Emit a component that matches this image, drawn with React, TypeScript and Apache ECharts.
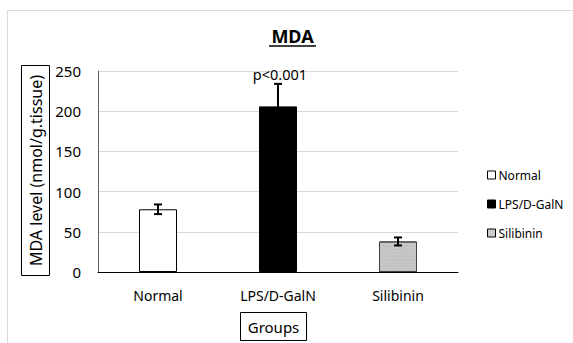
import React, { useEffect, useRef } from "react";
import * as echarts from "echarts";

const categories = ["Normal", "LPS/D-GalN", "Silibinin"];
const means = [78, 206, 38];
const errors = [6, 28, 5];
const barColors = ["#ffffff", "#000000", "#cccccc"];
const yTicks = { min: 0, max: 250, interval: 50 };
const annotation = "p<0.001";
const titleText = "MDA";
const yName = "MDA level (nmol/g.tissue)";
const xName = "Groups";

const FONT = "Noto Sans";

export default function App() {
  const ref = useRef<HTMLDivElement>(null);
  useEffect(() => {
    if (!ref.current) return;
    const chart = echarts.init(ref.current, null, { renderer: "svg" });
    const barSeries = categories.map((c, i) => ({
      name: c,
      type: "bar",
      stack: "g",
      barWidth: 38,
      data: categories.map((_, j) => (j === i ? means[i] : "-")),
      itemStyle: {
        color: barColors[i],
        borderColor: i === 2 ? "#404040" : "#000000",
        borderWidth: 1,
        decal: i === 2
          ? { symbol: "rect", symbolSize: 1, dashArrayX: [1, 1], dashArrayY: [1, 1], color: "rgba(120,120,120,0.35)", rotation: 0.785 }
          : "none",
      },
    }));
    const errData = categories.map((_, i) => [i, means[i], errors[i]]);
    chart.setOption({
      animation: false,
      aria: { enabled: false, decal: { show: false } },
      graphic: [
        {
          type: "rect",
          shape: { x: 7.5, y: 10.5, width: 600, height: 400 },
          style: { fill: "none", stroke: "#d9d9d9", lineWidth: 1 },
          silent: true,
          z: -10,
        },
        {
          type: "text",
          x: 292.5,
          y: 36,
          style: {
            text: titleText,
            textAlign: "center",
            textVerticalAlign: "middle",
            fontFamily: FONT,
            fontSize: 18,
            fontWeight: "bold",
            fill: "#000",
          },
        },
        {
          type: "line",
          shape: { x1: 269, y1: 46, x2: 316, y2: 46 },
          style: { stroke: "#000", lineWidth: 1.5 },
        },
        {
          type: "rect",
          shape: { x: 21.5, y: 65.5, width: 28, height: 210 },
          style: { fill: "none", stroke: "#000", lineWidth: 1 },
        },
        {
          type: "text",
          x: 36,
          y: 170.5,
          rotation: Math.PI / 2,
          style: {
            text: yName,
            textAlign: "center",
            textVerticalAlign: "middle",
            fontFamily: FONT,
            fontSize: 16,
            fill: "#000",
          },
        },
        {
          type: "rect",
          shape: { x: 240.5, y: 312.5, width: 66, height: 28 },
          style: { fill: "none", stroke: "#000", lineWidth: 1 },
        },
        {
          type: "text",
          x: 273.5,
          y: 326.5,
          style: {
            text: xName,
            textAlign: "center",
            textVerticalAlign: "middle",
            fontFamily: FONT,
            fontSize: 15,
            fill: "#000",
          },
        },
      ],
      legend: {
        orient: "vertical",
        left: 482,
        top: 164,
        itemWidth: 8,
        itemHeight: 8,
        itemGap: 17,
        icon: "rect",
        textStyle: { fontFamily: FONT, fontSize: 12, color: "#000", padding: [0, 0, 0, -2] },
        data: categories.map((c, i) => ({
          name: c,
          itemStyle: { color: barColors[i], borderColor: "#000", borderWidth: 1, decal: "none" },
        })),
      },
      grid: { left: 98, top: 71, right: 115, bottom: 71, outerBoundsMode: "none", containLabel: false },
      xAxis: {
        type: "category",
        data: categories,
        axisLine: { lineStyle: { color: "#000", width: 1 } },
        axisTick: { show: false },
        axisLabel: { fontFamily: FONT, fontSize: 14, color: "#000", margin: 16 },
      },
      yAxis: {
        type: "value",
        min: yTicks.min,
        max: yTicks.max,
        interval: yTicks.interval,
        axisLine: { show: true, lineStyle: { color: "#666666", width: 1 } },
        axisTick: { show: false },
        splitLine: { lineStyle: { color: "#d9d9d9", width: 1 } },
        axisLabel: { fontFamily: FONT, fontSize: 15, color: "#000", margin: 17 },
      },
      series: [
        ...barSeries,
        {
          type: "custom",
          name: "err",
          z: 10,
          renderItem: (params: any, api: any) => {
            const idx = api.value(0);
            const m = api.value(1);
            const e = api.value(2);
            const top = api.coord([idx, m + e]);
            const bot = api.coord([idx, m - e]);
            const hw = 4;
            const children: any[] = [
              { type: "line", shape: { x1: top[0], y1: top[1], x2: bot[0], y2: bot[1] }, style: { stroke: "#000", lineWidth: 2 } },
              { type: "line", shape: { x1: top[0] - hw, y1: top[1], x2: top[0] + hw, y2: top[1] }, style: { stroke: "#000", lineWidth: 2 } },
              { type: "line", shape: { x1: bot[0] - hw, y1: bot[1], x2: bot[0] + hw, y2: bot[1] }, style: { stroke: "#000", lineWidth: 2 } },
            ];
            if (idx === 1) {
              children.push({
                type: "text",
                style: {
                  text: annotation,
                  x: top[0] + 2,
                  y: top[1] - 2,
                  textAlign: "center",
                  textVerticalAlign: "bottom",
                  fontFamily: FONT,
                  fontSize: 14.5,
                  fill: "#000",
                },
              });
            }
            return { type: "group", children };
          },
          data: errData,
        },
      ],
    });
    return () => chart.dispose();
  }, []);
  return (
    <div
      ref={ref}
      style={{ position: "fixed", left: 0, top: 0, width: 573, height: 343, background: "#fff" }}
    />
  );
}
